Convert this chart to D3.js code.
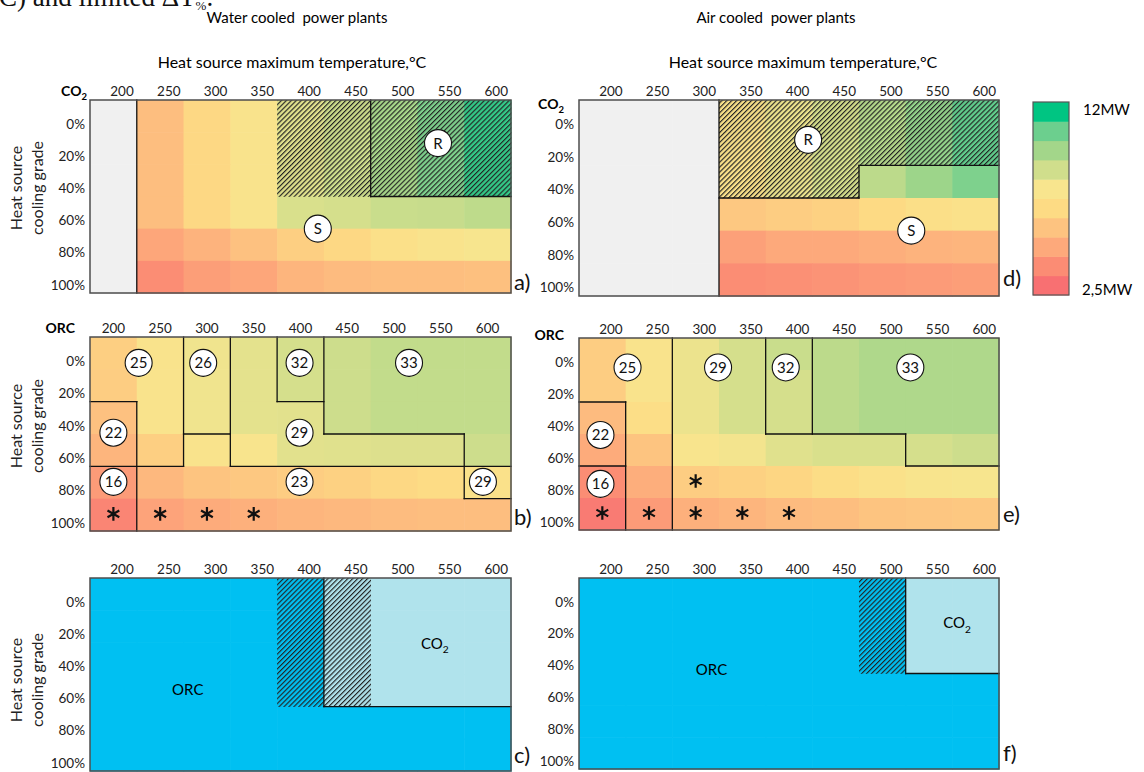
<!DOCTYPE html>
<html>
<head>
<meta charset="utf-8">
<script src="https://cdn.jsdelivr.net/npm/d3@7"></script>
<style>
body { margin: 0; background: #fff; }
svg { display: block; font-family: Lato, "Open Sans", sans-serif; }
</style>
</head>
<body>
<svg width="1144" height="772"></svg>
<script>
// ---- data ----
var temps = [200, 250, 300, 350, 400, 450, 500, 550, 600];
var grades = ['0%', '20%', '40%', '60%', '80%', '100%'];

// legend bins, low -> high
var legendColors = ['#f87072', '#fb8c74', '#fda97b', '#fdc380', '#fddb84',
                    '#f8e58e', '#d0de8c', '#a3d68a', '#6ccf8e', '#00c582'];
var legendRange = [2.5, 12];
var legendLabels = ['12MW', '2,5MW'];

// net power (MW), rows = cooling grade, cols = max temperature, null = not feasible
var co2Water = [
    [null, 5.45, 6.6, 7.6, 8.4, 8.9, 9.8, 10.6, 11.5],
    [null, 5.45, 6.6, 7.6, 8.4, 8.9, 9.8, 10.6, 11.5],
    [null, 5.45, 6.6, 7.6, 8.4, 8.9, 9.8, 10.6, 11.5],
    [null, 5.45, 6.6, 7.6, 8.6, 8.7, 9.0, 9.05, 9.25],
    [null, 4.5, 5.0, 5.6, 6.2, 6.6, 7.25, 7.6, 7.8],
    [null, 3.6, 4.2, 4.5, 5.1, 5.35, 5.45, 5.45, 5.55]
];
var co2Air = [
    [null, null, null, 7.35, 8.1, 8.7, 9.5, 10.2, 11.05],
    [null, null, null, 7.35, 8.1, 8.7, 9.5, 10.2, 11.05],
    [null, null, null, 7.35, 8.1, 8.7, 9.3, 10.0, 10.6],
    [null, null, null, 5.9, 6.1, 6.3, 6.7, 7.1, 7.35],
    [null, null, null, 4.3, 4.6, 4.6, 4.8, 5.0, 5.1],
    [null, null, null, 3.6, 3.7, 3.8, 4.0, 4.1, 4.2]
];
var orcWater = [
    [6.2, 7.6, 8.0, 8.3, 8.7, 8.9, 9.15, 9.15, 9.15],
    [6.1, 7.6, 8.0, 8.3, 8.7, 8.9, 9.15, 9.15, 9.15],
    [5.6, 7.6, 8.0, 8.3, 8.35, 8.9, 9.15, 9.15, 9.15],
    [5.1, 6.2, 7.6, 7.7, 8.35, 8.4, 8.5, 8.5, 8.9],
    [4.1, 5.2, 5.7, 5.9, 6.1, 6.3, 6.6, 6.8, 7.35],
    [3.3, 4.4, 4.7, 4.9, 5.1, 5.2, 5.4, 5.45, 5.45]
];
var orcAir = [
    [6.1, 7.6, 8.1, 8.7, 9.0, 9.3, 9.6, 9.6, 9.6],
    [6.1, 7.6, 8.1, 8.7, 8.7, 9.3, 9.6, 9.6, 9.6],
    [5.35, 7.0, 8.1, 8.7, 8.7, 9.3, 9.6, 9.6, 9.6],
    [4.7, 5.7, 7.7, 7.9, 8.4, 8.6, 8.6, 8.7, 8.9],
    [3.6, 4.8, 6.1, 6.3, 6.5, 6.9, 7.35, 7.7, 7.8],
    [2.9, 4.1, 4.9, 5.1, 5.35, 5.45, 5.7, 5.8, 5.9]
];

// x = hatched (recuperated layout)
var co2WaterHatch = ['....xxxxx', '....xxxxx', '....xxxxx', '.........', '.........', '.........'];
var co2AirHatch   = ['...xxxxxx', '...xxxxxx', '...xxx...', '.........', '.........', '.........'];

// best cycle: O = ORC, C = CO2, lower case = hatched (close call)
var bestWater = ['OOOOocCCC', 'OOOOocCCC', 'OOOOocCCC', 'OOOOocCCC', 'OOOOOOOOO', 'OOOOOOOOO'];
var bestAir   = ['OOOOOOoCC', 'OOOOOOoCC', 'OOOOOOoCC', 'OOOOOOOOO', 'OOOOOOOOO', 'OOOOOOOOO'];

// region borders in grid units [col0, row0, col1, row1]
var co2WaterEdges = [[1, 0, 1, 6], [6, 0, 6, 3], [6, 3, 9, 3]];
var co2AirEdges = [[3, 0, 3, 6], [3, 3, 6, 3], [6, 2, 6, 3], [6, 2, 9, 2]];
var orcWaterEdges = [[0, 2, 1, 2], [1, 2, 1, 6], [0, 4, 2, 4], [2, 0, 2, 4], [2, 3, 3, 3],
    [3, 0, 3, 4], [3, 4, 9, 4], [4, 0, 4, 2], [4, 2, 5, 2], [5, 0, 5, 3], [5, 3, 8, 3],
    [8, 3, 8, 5], [8, 5, 9, 5]];
var orcAirEdges = [[0, 2, 1, 2], [1, 2, 1, 6], [0, 4, 1, 4], [2, 0, 2, 6], [4, 0, 4, 3],
    [5, 0, 5, 3], [4, 3, 7, 3], [7, 3, 7, 4], [7, 4, 9, 4]];
var bestWaterEdges = [[5, 0, 5, 4], [5, 4, 9, 4]];
var bestAirEdges = [[7, 0, 7, 3], [7, 3, 9, 3]];

// circled labels (grid units) - working fluid / layout
var co2WaterTags = [{t: 'R', c: 7.44, r: 1.34}, {t: 'S', c: 4.87, r: 4.0}];
var co2AirTags = [{t: 'R', c: 4.91, r: 1.22}, {t: 'S', c: 7.12, r: 4.0}];
var orcWaterTags = [{t: '25', c: 1.04, r: 0.8}, {t: '26', c: 2.42, r: 0.8}, {t: '32', c: 4.48, r: 0.8},
    {t: '33', c: 6.82, r: 0.8}, {t: '22', c: 0.5, r: 2.96}, {t: '29', c: 4.48, r: 2.96},
    {t: '16', c: 0.5, r: 4.48}, {t: '23', c: 4.48, r: 4.48}, {t: '29', c: 8.4, r: 4.48}];
var orcAirTags = [{t: '25', c: 1.04, r: 0.92}, {t: '29', c: 2.98, r: 0.92}, {t: '32', c: 4.43, r: 0.92},
    {t: '33', c: 7.1, r: 0.92}, {t: '22', c: 0.46, r: 3.03}, {t: '16', c: 0.46, r: 4.56}];
// asterisks: [col, row]
var orcWaterStars = [[0, 5], [1, 5], [2, 5], [3, 5]];
var orcAirStars = [[2, 4], [0, 5], [1, 5], [2, 5], [3, 5], [4, 5]];

// ---- drawing ----
var svg = d3.select('svg');
svg.append('rect').attr('width', 1144).attr('height', 772).attr('fill', '#fff');

var defs = svg.append('defs');
var hatch = defs.append('pattern')
    .attr('id', 'hatch')
    .attr('patternUnits', 'userSpaceOnUse')
    .attr('width', 3.5).attr('height', 3.5)
    .attr('patternTransform', 'rotate(45)');
hatch.append('rect').attr('width', 1.15).attr('height', 3.5).attr('fill', '#222');

var stops = legendColors.map(function(c, i) {
    return legendRange[0] + i * (legendRange[1] - legendRange[0]) / (legendColors.length - 1);
});
var color = d3.scaleLinear().domain(stops).range(legendColors).clamp(true);

var ORC_BLUE = '#00c0f2', CO2_BLUE = '#b0e3ec', GREY = '#f0f0f0';

function drawPanel(p, cellFill, isHatched, edges) {
    var g = svg.append('g');
    var x = d3.scaleBand().domain(temps).range([p.x0, p.x1]);
    var y = d3.scaleBand().domain(grades).range([p.y0, p.y1]);
    var gx = d3.scaleLinear().domain([0, temps.length]).range([p.x0, p.x1]);
    var gy = d3.scaleLinear().domain([0, grades.length]).range([p.y0, p.y1]);

    var cells = [];
    grades.forEach(function(gr, r) {
        temps.forEach(function(t, c) { cells.push({t: t, g: gr, r: r, c: c}); });
    });

    g.selectAll('.cell').data(cells).enter().append('rect')
        .attr('class', 'cell')
        .attr('x', function(d) { return x(d.t); })
        .attr('y', function(d) { return y(d.g); })
        .attr('width', x.bandwidth() + 0.6)
        .attr('height', y.bandwidth() + 0.6)
        .attr('fill', function(d) { return cellFill(d.r, d.c); });

    g.selectAll('.hatch').data(cells.filter(function(d) { return isHatched(d.r, d.c); })).enter().append('rect')
        .attr('class', 'hatch')
        .attr('x', function(d) { return x(d.t); })
        .attr('y', function(d) { return y(d.g); })
        .attr('width', x.bandwidth() + 0.3)
        .attr('height', y.bandwidth() + 0.3)
        .attr('fill', 'url(#hatch)');

    g.selectAll('.edge').data(edges).enter().append('line')
        .attr('class', 'edge')
        .attr('x1', function(d) { return gx(d[0]); })
        .attr('y1', function(d) { return gy(d[1]); })
        .attr('x2', function(d) { return gx(d[2]); })
        .attr('y2', function(d) { return gy(d[3]); })
        .attr('stroke', '#111').attr('stroke-width', 1.3).attr('stroke-linecap', 'square');

    g.append('rect')
        .attr('x', p.x0).attr('y', p.y0)
        .attr('width', p.x1 - p.x0).attr('height', p.y1 - p.y0)
        .attr('fill', 'none').attr('stroke', '#4d4d4d').attr('stroke-width', 1.5);

    // temperature ticks on top
    var top = g.append('g')
        .attr('transform', 'translate(0,' + (p.y0 - 9) + ')')
        .call(d3.axisTop(x).tickSize(0).tickPadding(0));
    top.select('.domain').remove();
    top.attr('font-family', null).attr('font-size', null);
    top.selectAll('text')
        .attr('y', 0).attr('dy', '0.35em')
        .attr('font-size', 13.5).attr('fill', '#222')
        .attr('text-anchor', p.centred ? 'middle' : 'end')
        .attr('x', p.centred ? 0 : x.bandwidth() / 2 - 3);

    // cooling grade ticks on the left
    var left = g.append('g')
        .attr('transform', 'translate(' + (p.x0 - 5) + ',0)')
        .call(d3.axisLeft(y).tickSize(0).tickPadding(0));
    left.select('.domain').remove();
    left.attr('font-family', null).attr('font-size', null);
    left.selectAll('text')
        .attr('y', 8).attr('dy', '0.35em')
        .attr('font-size', 13.5).attr('fill', '#222');

    return {g: g, x: x, y: y, gx: gx, gy: gy};
}

function addTags(panel, tags) {
    var t = panel.g.selectAll('.tag').data(tags).enter().append('g')
        .attr('class', 'tag')
        .attr('transform', function(d) { return 'translate(' + panel.gx(d.c) + ',' + panel.gy(d.r) + ')'; });
    t.append('circle').attr('r', 13.5).attr('fill', '#fff').attr('stroke', '#111').attr('stroke-width', 1.1);
    t.append('text').attr('text-anchor', 'middle').attr('dy', '0.36em')
        .attr('font-size', 15).attr('fill', '#111')
        .text(function(d) { return d.t; });
}

function addStars(panel, stars) {
    var star = d3.symbol().type(d3.symbolAsterisk).size(130);
    panel.g.selectAll('.star').data(stars).enter().append('path')
        .attr('class', 'star')
        .attr('d', star)
        .attr('transform', function(d) {
            return 'translate(' + panel.gx(d[0] + 0.5) + ',' + (panel.gy(d[1] + 0.5) - 1) + ')';
        })
        .attr('fill', 'none').attr('stroke', '#111').attr('stroke-width', 2.2);
}

function valueFill(m) {
    return function(r, c) { return m[r][c] == null ? GREY : color(m[r][c]); };
}
function maskHatch(mask) {
    return function(r, c) { return mask[r][c] === 'x'; };
}
function bestFill(m) {
    return function(r, c) { return m[r][c].toUpperCase() === 'C' ? CO2_BLUE : ORC_BLUE; };
}
function bestHatch(m) {
    return function(r, c) { var ch = m[r][c]; return ch !== ch.toUpperCase(); };
}
var never = function() { return false; };

var L = {x0: 90, x1: 511}, R = {x0: 579, x1: 999};

var pa = drawPanel({x0: L.x0, x1: L.x1, y0: 100, y1: 293}, valueFill(co2Water), maskHatch(co2WaterHatch), co2WaterEdges);
addTags(pa, co2WaterTags);
var pb = drawPanel({x0: L.x0, x1: L.x1, y0: 337, y1: 531, centred: true}, valueFill(orcWater), never, orcWaterEdges);
addTags(pb, orcWaterTags);
addStars(pb, orcWaterStars);
var pc = drawPanel({x0: L.x0, x1: L.x1, y0: 578, y1: 771}, bestFill(bestWater), bestHatch(bestWater), bestWaterEdges);

var pd = drawPanel({x0: R.x0, x1: R.x1, y0: 100, y1: 296}, valueFill(co2Air), maskHatch(co2AirHatch), co2AirEdges);
addTags(pd, co2AirTags);
var pe = drawPanel({x0: R.x0, x1: R.x1, y0: 338, y1: 530}, valueFill(orcAir), never, orcAirEdges);
addTags(pe, orcAirTags);
addStars(pe, orcAirStars);
var pf = drawPanel({x0: R.x0, x1: R.x1, y0: 578, y1: 769}, bestFill(bestAir), bestHatch(bestAir), bestAirEdges);

// cycle names in the best-cycle maps
function co2Text(sel, size) {
    sel.append('tspan').text('CO');
    sel.append('tspan').text('2').attr('font-size', size * 0.68).attr('dy', size * 0.28);
}
pc.g.append('text').attr('x', pc.gx(2.09)).attr('y', pc.gy(3.48)).attr('dy', '0.35em')
    .attr('text-anchor', 'middle').attr('font-size', 15).text('ORC');
pc.g.append('text').attr('x', pc.gx(7.37)).attr('y', pc.gy(2.03)).attr('dy', '0.35em')
    .attr('text-anchor', 'middle').attr('font-size', 15).call(co2Text, 15);
pf.g.append('text').attr('x', pf.gx(2.84)).attr('y', pf.gy(2.88)).attr('dy', '0.35em')
    .attr('text-anchor', 'middle').attr('font-size', 15).text('ORC');
pf.g.append('text').attr('x', pf.gx(8.1)).attr('y', pf.gy(1.42)).attr('dy', '0.35em')
    .attr('text-anchor', 'middle').attr('font-size', 15).call(co2Text, 15);

// corner labels
svg.append('text').attr('x', 87).attr('y', 91).attr('dy', '0.35em').attr('text-anchor', 'end')
    .attr('font-weight', 'bold').attr('font-size', 14).call(co2Text, 14);
svg.append('text').attr('x', 564).attr('y', 104).attr('dy', '0.35em').attr('text-anchor', 'end')
    .attr('font-weight', 'bold').attr('font-size', 14).call(co2Text, 14);
svg.append('text').attr('x', 75).attr('y', 328).attr('dy', '0.35em').attr('text-anchor', 'end')
    .attr('font-weight', 'bold').attr('font-size', 14).text('ORC');
svg.append('text').attr('x', 564).attr('y', 335).attr('dy', '0.35em').attr('text-anchor', 'end')
    .attr('font-weight', 'bold').attr('font-size', 14).text('ORC');

// panel letters
var letters = [['a)', 514, 290], ['b)', 514, 525], ['c)', 514, 763],
               ['d)', 1003, 286], ['e)', 1003, 522], ['f)', 1003, 761]];
svg.selectAll('.letter').data(letters).enter().append('text')
    .attr('class', 'letter')
    .attr('x', function(d) { return d[1]; })
    .attr('y', function(d) { return d[2]; })
    .attr('font-size', 22).attr('fill', '#111')
    .text(function(d) { return d[0]; });

// y axis titles (left column only)
[188, 426, 680].forEach(function(cy) {
    var t = svg.append('g').attr('font-size', 16).attr('fill', '#222');
    t.append('text').attr('transform', 'translate(16,' + cy + ') rotate(-90)')
        .attr('text-anchor', 'middle').attr('dy', '0.35em').text('Heat source');
    t.append('text').attr('transform', 'translate(37.5,' + cy + ') rotate(-90)')
        .attr('text-anchor', 'middle').attr('dy', '0.35em').text('cooling grade');
});

// titles
svg.append('text').attr('x', 297).attr('y', 18).attr('dy', '0.35em').attr('text-anchor', 'middle')
    .attr('font-size', 15).style('white-space', 'pre').text('Water cooled  power plants');
svg.append('text').attr('x', 776).attr('y', 18).attr('dy', '0.35em').attr('text-anchor', 'middle')
    .attr('font-size', 15).style('white-space', 'pre').text('Air cooled  power plants');
svg.append('text').attr('x', 292).attr('y', 62).attr('dy', '0.35em').attr('text-anchor', 'middle')
    .attr('font-size', 16).text('Heat source maximum temperature,°C');
svg.append('text').attr('x', 803).attr('y', 62).attr('dy', '0.35em').attr('text-anchor', 'middle')
    .attr('font-size', 16).text('Heat source maximum temperature,°C');

// text of the page above, cut by the crop
var cut = svg.append('text').attr('x', -1).attr('y', 6)
    .attr('font-family', '"Liberation Serif", serif').attr('font-size', 27).attr('fill', '#111');
cut.append('tspan').text('C) and limited ΔT');
cut.append('tspan').text('%').attr('font-size', 13).attr('dy', 4);
cut.append('tspan').text('.').attr('dy', -4);

// colour legend
var lg = svg.append('g');
var ly = d3.scaleLinear().domain([0, legendColors.length]).range([295, 102]);
lg.selectAll('rect.bin').data(legendColors).enter().append('rect')
    .attr('class', 'bin')
    .attr('x', 1033).attr('width', 36)
    .attr('y', function(d, i) { return ly(i + 1); })
    .attr('height', function(d, i) { return ly(i) - ly(i + 1) + 0.5; })
    .attr('fill', function(d) { return d; });
lg.append('rect').attr('x', 1033).attr('y', 102).attr('width', 36).attr('height', 193)
    .attr('fill', 'none').attr('stroke', '#555').attr('stroke-width', 1.2);
lg.append('text').attr('x', 1083).attr('y', 110).attr('dy', '0.35em').attr('font-size', 15).text(legendLabels[0]);
lg.append('text').attr('x', 1082).attr('y', 290).attr('dy', '0.35em').attr('font-size', 15).text(legendLabels[1]);
</script>
</body>
</html>
